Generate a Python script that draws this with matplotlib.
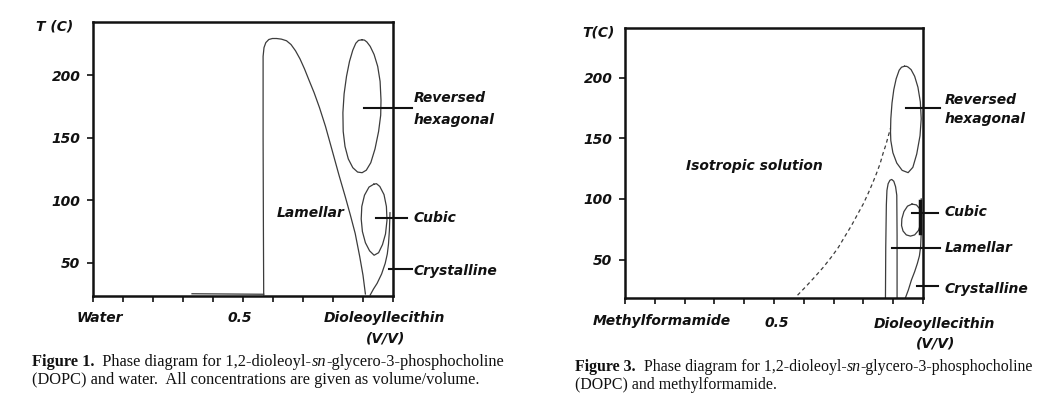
import matplotlib
matplotlib.use('Agg')
import matplotlib.pyplot as plt
from matplotlib.transforms import blended_transform_factory

W, H = 1045, 419

# ---------------- data ----------------
x_ticks = [0.0, 0.1, 0.2, 0.3, 0.4, 0.5, 0.6, 0.7, 0.8, 0.9, 1.0]
y_ticks = [50, 100, 150, 200]
y_tick_labels = ['50', '100', '150', '200']

# Figure 1: DOPC / water
f1_lamellar_x = [0.569, 0.568, 0.567, 0.567, 0.570, 0.576, 0.586, 0.598, 0.612, 0.628, 0.645, 0.660,
                 0.675, 0.690, 0.705, 0.720, 0.737, 0.755, 0.775, 0.797, 0.820, 0.841, 0.858,
                 0.874, 0.889, 0.900, 0.908]
f1_lamellar_T = [24.2, 80.0, 150.0, 215.0, 222.0, 226.0, 228.5, 229.3, 229.3, 228.8, 227.5, 224.5,
                 219.5, 213.0, 205.0, 196.0, 186.0, 174.0, 159.0, 140.0, 120.0, 102.7, 88.0,
                 73.4, 55.0, 40.0, 25.0]
f1_hex_x = [0.897, 0.885, 0.876, 0.866, 0.855, 0.845, 0.837, 0.833, 0.834, 0.840, 0.851, 0.866,
            0.882, 0.897, 0.911, 0.926, 0.940, 0.952, 0.959, 0.960, 0.957, 0.949, 0.937, 0.924,
            0.913, 0.905, 0.897]
f1_hex_T = [228.3, 227.8, 225.5, 220.0, 211.0, 199.0, 185.0, 170.0, 155.0, 143.0, 133.0, 126.0,
            122.5, 122.0, 124.0, 130.0, 141.0, 155.0, 168.0, 180.0, 195.0, 207.0, 216.5, 223.0,
            226.5, 228.0, 228.3]
f1_cubic_x = [0.936, 0.920, 0.905, 0.896, 0.894, 0.898, 0.908, 0.922, 0.937, 0.952, 0.965, 0.975,
              0.980, 0.978, 0.970, 0.956, 0.945, 0.936]
f1_cubic_T = [112.8, 110.5, 104.0, 95.0, 85.0, 75.0, 66.0, 59.5, 56.0, 58.0, 64.5, 73.0,
              84.0, 95.0, 104.5, 111.0, 113.2, 112.8]
f1_cryst_x = [0.924, 0.935, 0.947, 0.962, 0.974, 0.981, 0.985, 0.988, 0.990]
f1_cryst_T = [24.2, 29.0, 33.5, 41.0, 49.5, 57.0, 65.0, 76.0, 90.0]
f1_base_x = [0.33, 0.45, 0.569]
f1_base_T = [25.2, 25.0, 24.8]

# Figure 3: DOPC / methylformamide
f3_iso_x = [0.579, 0.608, 0.637, 0.665, 0.693, 0.716, 0.737, 0.760, 0.782, 0.800, 0.816,
            0.831, 0.844, 0.856, 0.866, 0.876, 0.883, 0.891]
f3_iso_T = [20.6, 28.0, 35.7, 43.5, 52.2, 60.0, 68.7, 78.0, 88.0, 96.0, 104.5,
            113.0, 121.0, 129.0, 137.5, 145.0, 151.3, 158.2]
f3_hex_x = [0.938, 0.928, 0.920, 0.910, 0.902, 0.896, 0.892, 0.891, 0.892, 0.899, 0.912, 0.930,
            0.950, 0.966, 0.979, 0.990, 0.994, 0.991, 0.983, 0.972, 0.960, 0.950, 0.945, 0.938]
f3_hex_T = [209.3, 208.5, 206.0, 199.0, 190.0, 179.0, 166.0, 155.0, 148.0, 138.0, 129.5, 123.5,
            121.6, 126.0, 137.0, 152.0, 166.0, 180.0, 192.0, 201.0, 206.5, 208.6, 209.2, 209.3]
f3_lam_x = [0.874, 0.875, 0.877, 0.879, 0.883, 0.889, 0.895, 0.902, 0.908, 0.912, 0.913, 0.913]
f3_lam_T = [18.4, 60.0, 95.0, 107.0, 112.5, 115.3, 116.0, 114.5, 110.0, 103.0, 70.0, 18.4]
f3_cubic_x = [0.963, 0.948, 0.936, 0.929, 0.928, 0.933, 0.944, 0.958, 0.972, 0.985, 0.993,
              0.995, 0.990, 0.978, 0.963]
f3_cubic_T = [95.7, 94.0, 89.5, 83.5, 78.0, 73.5, 70.3, 69.3, 70.3, 74.0, 80.0,
              86.0, 91.5, 95.0, 95.7]
f3_cryst_x = [0.941, 0.951, 0.961, 0.972, 0.981, 0.988, 0.992, 0.994, 0.994]
f3_cryst_T = [18.4, 25.0, 33.0, 40.0, 46.7, 53.0, 60.5, 71.5, 100.0]
f3_bar_x = [0.991, 0.991]
f3_bar_T = [72.0, 98.0]

# phase labels: (text, x, T) and pointer lines (x0, x1, T)
f1_labels = [('Reversed', 1.069, 182.0), ('hexagonal', 1.069, 163.8),
             ('Cubic', 1.069, 86.0), ('Crystalline', 1.069, 43.6)]
f1_pointers = [(0.904, 1.063, 173.7), (0.944, 1.047, 85.9), (0.986, 1.063, 44.7)]
f3_labels = [('Reversed', 1.073, 181.5), ('hexagonal', 1.073, 165.9),
             ('Cubic', 1.073, 89.4), ('Lamellar', 1.073, 59.9), ('Crystalline', 1.073, 26.0)]
f3_pointers = [(0.944, 1.056, 174.7), (0.964, 1.050, 88.0), (0.896, 1.056, 59.6),
               (0.981, 1.050, 28.0)]

# ---------------- styling ----------------
LINE = '#3c3c3c'
INK = '#111111'
LAB = dict(family='DejaVu Sans', weight='bold', style='italic', size=10, color=INK)
CAP = 'Liberation Serif'

fig = plt.figure(figsize=(W / 100, H / 100), dpi=100)
fig.patch.set_facecolor('white')


def make_axes(left, right, top, bottom, ylim):
    ax = fig.add_axes([left / W, 1 - bottom / H, (right - left) / W, (bottom - top) / H])
    ax.set_xlim(0, 1)
    ax.set_ylim(*ylim)
    for s in ax.spines.values():
        s.set_linewidth(1.8)
        s.set_color(INK)
    ax.set_xticks(x_ticks)
    ax.set_xticklabels([])
    ax.set_yticks(y_ticks)
    ax.set_yticklabels(y_tick_labels, fontdict=LAB)
    ax.tick_params(axis='x', direction='out', length=4, width=1.2, color=INK)
    ax.tick_params(axis='y', direction='out', length=4, width=1.2, color=INK, pad=5)
    ax.set_facecolor('white')
    return ax


def xlabel(ax, text, x, py, **kw):
    tr = blended_transform_factory(ax.transData, fig.transFigure)
    ax.text(x, 1 - py / H, text, transform=tr, ha='center', va='center', clip_on=False, **LAB, **kw)


def caption(pieces, px, py, size):
    r = fig.canvas.get_renderer()
    x = px
    for txt, weight, style in pieces:
        t = fig.text(x / W, 1 - py / H, txt, family=CAP, size=size, weight=weight, style=style,
                     color=INK, ha='left', va='baseline')
        bb = t.get_window_extent(renderer=r)
        x += bb.width


# ---------- Figure 1 ----------
ax1 = make_axes(93, 393, 22, 296, (23.4, 242.5))
lw = 0.9
ax1.plot(f1_lamellar_x, f1_lamellar_T, color=LINE, lw=lw)
ax1.plot(f1_hex_x, f1_hex_T, color=LINE, lw=lw)
ax1.plot(f1_cubic_x, f1_cubic_T, color=LINE, lw=lw)
ax1.plot(f1_cryst_x, f1_cryst_T, color=LINE, lw=lw)
ax1.plot(f1_base_x, f1_base_T, color=LINE, lw=lw)
for x0, x1, T in f1_pointers:
    ax1.plot([x0, x1], [T, T], color=INK, lw=1.5, clip_on=False)
for txt, x, T in f1_labels:
    ax1.text(x, T, txt, ha='left', va='center', clip_on=False, **LAB)
ax1.text(0.613, 89.4, 'Lamellar', ha='left', va='center', **LAB)
xlabel(ax1, 'Water', 0.024, 318)
xlabel(ax1, '0.5', 0.488, 318)
xlabel(ax1, 'Dioleoyllecithin', 0.971, 318)
xlabel(ax1, '(V/V)', 0.977, 338)
fig.text(55 / W, 1 - 27 / H, 'T (C)', ha='center', va='center', **LAB)

# ---------- Figure 3 ----------
ax3 = make_axes(625, 923, 28, 298, (18.3, 240.8))
ax3.plot(f3_iso_x, f3_iso_T, color=LINE, lw=0.9, ls=(0, (3, 2.5)))
ax3.plot(f3_hex_x, f3_hex_T, color=LINE, lw=lw)
ax3.plot(f3_lam_x, f3_lam_T, color=LINE, lw=lw)
ax3.plot(f3_cubic_x, f3_cubic_T, color=LINE, lw=lw)
ax3.plot(f3_cryst_x, f3_cryst_T, color=LINE, lw=lw)
ax3.plot(f3_bar_x, f3_bar_T, color=INK, lw=2.5)
for x0, x1, T in f3_pointers:
    ax3.plot([x0, x1], [T, T], color=INK, lw=1.5, clip_on=False)
for txt, x, T in f3_labels:
    ax3.text(x, T, txt, ha='left', va='center', clip_on=False, **LAB)
ax3.text(0.434, 127.3, 'Isotropic solution', ha='center', va='center', **LAB)
xlabel(ax3, 'Methylformamide', 0.123, 320.7)
xlabel(ax3, '0.5', 0.508, 323)
xlabel(ax3, 'Dioleoyllecithin', 1.037, 324)
xlabel(ax3, '(V/V)', 1.041, 343)
fig.text(599 / W, 1 - 33 / H, 'T(C)', ha='center', va='center', **LAB)

# ---------- captions ----------
caption([('Figure 1.', 'bold', 'normal'), ('  Phase diagram for 1,2-dioleoyl-', 'normal', 'normal'),
         ('sn', 'normal', 'italic'), ('-glycero-3-phosphocholine', 'normal', 'normal')], 32, 366, 11.75)
caption([('(DOPC) and water.  All concentrations are given as volume/volume.', 'normal', 'normal')],
        32, 384, 11.75)
caption([('Figure 3.', 'bold', 'normal'), ('  Phase diagram for 1,2-dioleoyl-', 'normal', 'normal'),
         ('sn', 'normal', 'italic'), ('-glycero-3-phosphocholine', 'normal', 'normal')], 575, 371, 11.45)
caption([('(DOPC) and methylformamide.', 'normal', 'normal')], 575, 388.5, 11.45)

fig.savefig('out.png', dpi=100, facecolor='white')
